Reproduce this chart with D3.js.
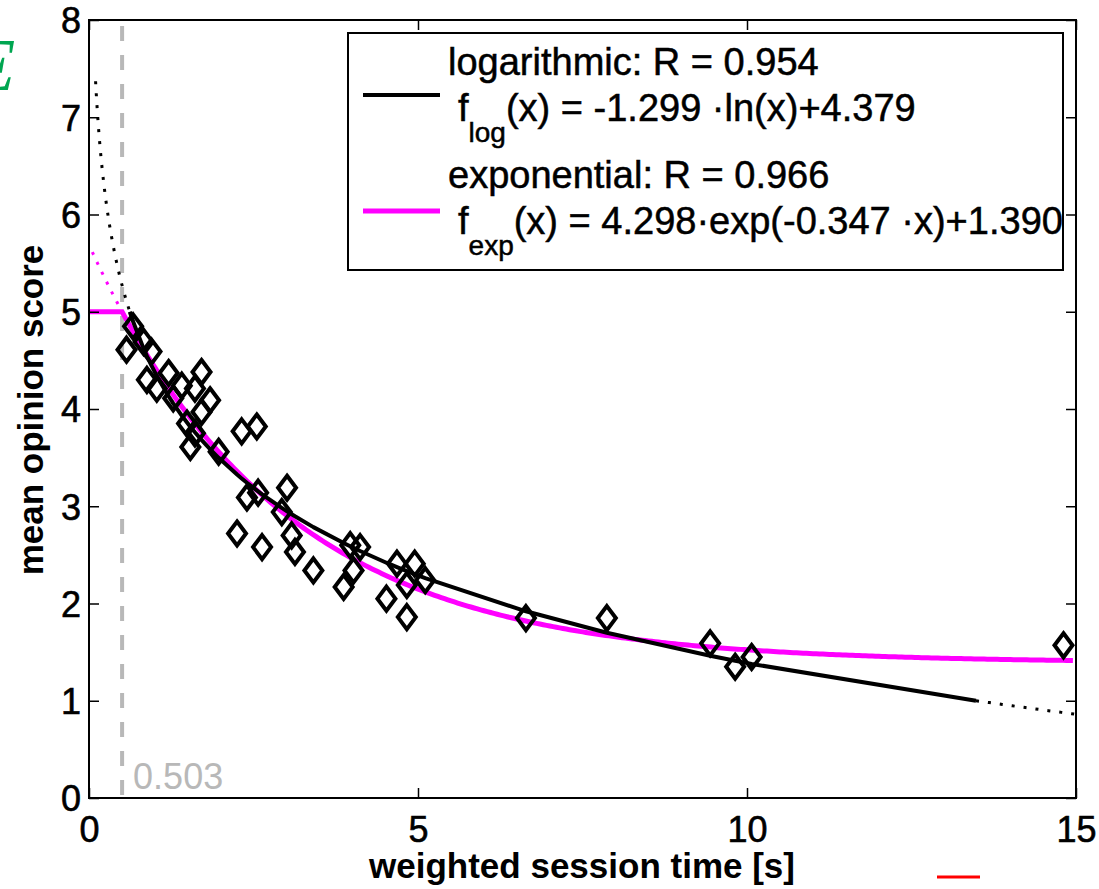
<!DOCTYPE html>
<html>
<head>
<meta charset="utf-8">
<script src="https://d3js.org/d3.v7.min.js"></script>
<style>
  body { margin: 0; background: #fff; }
  svg { display: block; font-family: "Liberation Sans", Arial, sans-serif; }
</style>
</head>
<body>
<script>
// measured points: weighted session time [s] vs MOS
var sessionTime = [0.57, 0.67, 0.83, 0.95, 0.88, 1.03, 1.21, 1.28, 1.41, 1.71, 1.61, 1.84,
                   1.71, 1.49, 1.61, 1.54, 1.97, 2.32, 2.55, 2.40, 2.57, 3.01, 2.93, 2.25,
                   2.63, 3.08, 3.13, 3.41, 3.97, 4.12, 4.02, 3.87, 4.68, 4.95, 4.83, 5.11,
                   4.52, 4.83, 6.64, 7.87, 9.44, 9.82, 10.07, 14.81];
var mos = [4.61, 4.85, 4.69, 4.59, 4.30, 4.21, 4.37, 4.11, 4.24, 4.38, 4.21, 4.09,
           3.97, 3.85, 3.75, 3.61, 3.56, 3.77, 3.82, 3.09, 3.14, 3.19, 2.94, 2.72,
           2.58, 2.70, 2.53, 2.34, 2.60, 2.58, 2.34, 2.17, 2.41, 2.41, 2.19, 2.24,
           2.05, 1.86, 1.85, 1.85, 1.59, 1.35, 1.45, 1.57];

// fit parameters from the legend
var logFit = [-1.299, 4.379];          // a*ln(x)+b
var expFit = [4.298, -0.347, 1.390];   // a*exp(b*x)+c
var threshold = 0.503;
var mosRange = [1, 5];

var xTicks = [0, 5, 10, 15];
var yTicks = [0, 1, 2, 3, 4, 5, 6, 7, 8];

var legendTitles = ["logarithmic: R = 0.954", "exponential: R = 0.966"];
var legendFormulas = [["log", "(x) = -1.299 \u00b7ln(x)+4.379"],
                      ["exp", "(x) = 4.298\u00b7exp(-0.347 \u00b7x)+1.390"]];

function init() {
  var W = 1099, H = 889;
  var svg = d3.select("body").append("svg").attr("width", W).attr("height", H);

  var x = d3.scaleLinear().domain([0, 15]).range([89, 1076]);
  var y = d3.scaleLinear().domain([0, 8]).range([798, 20]);

  var fLog = function(t) { return logFit[0] * Math.log(t) + logFit[1]; };
  var fExp = function(t) { return expFit[0] * Math.exp(expFit[1] * t) + expFit[2]; };
  var line = d3.line().x(function(d) { return x(d[0]); }).y(function(d) { return y(d[1]); });

  // stray green glyph at top-left (cut by the page edge, as in the source)
  svg.append("text").attr("x", -30).attr("y", 90)
    .attr("font-family", "Liberation Serif, serif").attr("font-style", "italic")
    .attr("font-size", 74).attr("fill", "#00a651").text("E");

  // threshold line
  svg.append("line")
    .attr("x1", x(threshold)).attr("x2", x(threshold))
    .attr("y1", y(8) + 6).attr("y2", y(0))
    .attr("stroke", "#b8b8b8").attr("stroke-width", 4)
    .attr("stroke-dasharray", "15,14");
  svg.append("text").attr("x", x(threshold) + 11).attr("y", 789)
    .attr("font-size", 36).attr("fill", "#b8b8b8").text(String(threshold));

  // log fit: dotted outside [1,5], solid inside
  var xAt5 = Math.exp((mosRange[1] - logFit[1]) / logFit[0]);
  var xAt1 = Math.exp((mosRange[0] - logFit[1]) / logFit[0]);
  var sorted = sessionTime.slice().sort(d3.ascending).filter(function(t) { return t > xAt5 && t < xAt1; });
  var logSolid = [xAt5].concat(sorted, [xAt1]).map(function(t) { return [t, fLog(t)]; });
  var logDotL = d3.range(0.1, xAt5, 0.01).concat([xAt5]).map(function(t) { return [t, fLog(t)]; });
  var logDotR = d3.range(xAt1, 15.001, 0.05).map(function(t) { return [t, fLog(t)]; });

  // exp fit: dotted above 5, capped at 5 otherwise
  var expDot = d3.range(0.05, threshold, 0.01).concat([threshold]).map(function(t) { return [t, fExp(t)]; });
  var expSolid = [[0, mosRange[1]]].concat(d3.range(threshold, 15.001, 0.05).map(function(t) {
    return [t, Math.min(mosRange[1], fExp(t))];
  }));

  svg.append("path").attr("d", line(expDot)).attr("fill", "none")
    .attr("stroke", "#ff00ff").attr("stroke-width", 3).attr("stroke-dasharray", "3,8");
  svg.append("path").attr("d", line(expSolid)).attr("fill", "none")
    .attr("stroke", "#ff00ff").attr("stroke-width", 5);
  svg.append("path").attr("d", line(logDotL)).attr("fill", "none")
    .attr("stroke", "#000").attr("stroke-width", 3).attr("stroke-dasharray", "3,9");
  svg.append("path").attr("d", line(logDotR)).attr("fill", "none")
    .attr("stroke", "#000").attr("stroke-width", 3).attr("stroke-dasharray", "3,9");
  svg.append("path").attr("d", line(logSolid)).attr("fill", "none")
    .attr("stroke", "#000").attr("stroke-width", 4).attr("stroke-linejoin", "round");

  // diamonds
  svg.selectAll("path.pt")
    .data(d3.zip(sessionTime, mos))
    .enter().append("path")
    .attr("class", "pt")
    .attr("d", "M0,-12L9,0L0,12L-9,0Z")
    .attr("transform", function(d) { return "translate(" + x(d[0]) + "," + y(d[1]) + ")"; })
    .attr("fill", "none").attr("stroke", "#000").attr("stroke-width", 4)
    .attr("stroke-linejoin", "miter");

  // axes, ticks inward on all sides
  var gx = svg.append("g").attr("transform", "translate(0," + y(0) + ")")
    .call(d3.axisBottom(x).tickValues(xTicks).tickSizeInner(-10).tickSizeOuter(0).tickPadding(18));
  var gy = svg.append("g").attr("transform", "translate(" + x(0) + ",0)")
    .call(d3.axisLeft(y).tickValues(yTicks).tickSizeInner(-10).tickSizeOuter(0).tickPadding(8));
  var gt = svg.append("g").attr("transform", "translate(0," + y(8) + ")")
    .call(d3.axisTop(x).tickValues(xTicks).tickSizeInner(-10).tickSizeOuter(0).tickFormat(""));
  var gr = svg.append("g").attr("transform", "translate(" + x(15) + ",0)")
    .call(d3.axisRight(y).tickValues(yTicks).tickSizeInner(-10).tickSizeOuter(0).tickFormat(""));
  [gx, gy, gt, gr].forEach(function(g) {
    g.select(".domain").remove();
    g.selectAll("line").attr("stroke", "#000").attr("stroke-width", 1.5);
    g.selectAll("text").attr("font-size", 36).attr("font-family", "Liberation Sans, Arial, sans-serif")
      .attr("fill", "#000").attr("stroke", "#000").attr("stroke-width", 0.6);
  });
  gx.selectAll("text").attr("dy", null).attr("y", 44);
  gy.selectAll("text").attr("dy", "0.36em");

  svg.append("rect")
    .attr("x", x(0)).attr("y", y(8))
    .attr("width", x(15) - x(0)).attr("height", y(0) - y(8))
    .attr("fill", "none").attr("stroke", "#000").attr("stroke-width", 2);

  // legend
  var lg = svg.append("g");
  lg.append("rect").attr("x", 348).attr("y", 33).attr("width", 715).attr("height", 237)
    .attr("fill", "#fff").attr("stroke", "#000").attr("stroke-width", 2);
  var legendColors = ["#000", "#ff00ff"];
  var legendWidths = [4, 5];
  legendTitles.forEach(function(t, i) {
    var top = 75 + i * 113;
    lg.append("line").attr("x1", 363).attr("x2", 440)
      .attr("y1", top + 20 + i * 3).attr("y2", top + 20 + i * 3)
      .attr("stroke", legendColors[i]).attr("stroke-width", legendWidths[i]);
    lg.append("text").attr("x", 448).attr("y", top).attr("font-size", 38)
      .attr("stroke", "#000").attr("stroke-width", 0.5).text(t);
    var f = lg.append("text").attr("x", 458).attr("y", top + 46).attr("font-size", 38)
      .attr("stroke", "#000").attr("stroke-width", 0.5);
    f.append("tspan").text("f");
    f.append("tspan").attr("dy", 21).attr("font-size", 28).text(legendFormulas[i][0]);
    f.append("tspan").attr("dy", -21).attr("font-size", 38).text(legendFormulas[i][1]);
  });

  // axis titles
  svg.append("text").attr("x", 582).attr("y", 878)
    .attr("text-anchor", "middle").attr("font-weight", "bold").attr("font-size", 35)
    .text("weighted session time [s]");
  svg.append("text").attr("transform", "translate(43,410) rotate(-90)")
    .attr("text-anchor", "middle").attr("font-weight", "bold").attr("font-size", 35)
    .text("mean opinion score");

  // small red mark below the axis
  svg.append("line").attr("x1", 937).attr("x2", 980).attr("y1", 877).attr("y2", 877)
    .attr("stroke", "#ff0000").attr("stroke-width", 3);
}
window.onload = init;
</script>
</body>
</html>
